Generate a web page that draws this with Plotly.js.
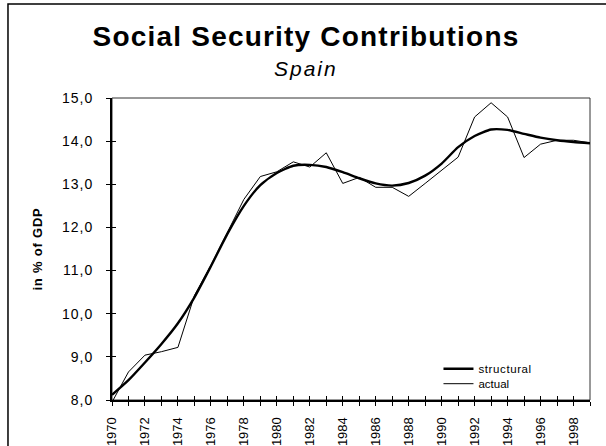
<!DOCTYPE html>
<html>
<head>
<meta charset="utf-8">
<script src="https://cdn.plot.ly/plotly-3.0.1.min.js"></script>
<style>
  html, body { margin: 0; padding: 0; background: #fff; }
  #chart { width: 606px; height: 446px; }
  .annotation[data-index="0"] text { letter-spacing: 1.2px; }
  .annotation[data-index="1"] text { letter-spacing: 2px; }
  .ytick text { letter-spacing: 1px; }
  .ytitle { letter-spacing: 0.8px; }
  .legendtext { letter-spacing: 0.6px; }
</style>
</head>
<body>
<div id="chart"></div>
<script>
const years = [1970,1971,1972,1973,1974,1975,1976,1977,1978,1979,
               1980,1981,1982,1983,1984,1985,1986,1987,1988,1989,
               1990,1991,1992,1993,1994,1995,1996,1997,1998,1999];
const structural = [8.12,8.46,8.87,9.30,9.78,10.38,11.10,11.85,12.50,12.98,
                    13.26,13.43,13.45,13.40,13.28,13.14,13.02,12.97,13.03,13.20,
                    13.48,13.86,14.12,14.27,14.26,14.17,14.08,14.02,13.98,13.95];
const actual = [7.95,8.65,9.04,9.12,9.22,10.42,11.12,11.87,12.65,13.18,
                13.29,13.52,13.40,13.73,13.02,13.16,12.93,12.93,12.72,13.02,
                13.33,13.63,14.56,14.89,14.56,13.62,13.93,14.02,14.02,13.96];
const xTickLabels = years.map(y => (y % 2 === 0 ? String(y) : ''));
const yTicks = [8,9,10,11,12,13,14,15];

const FONT = 'Liberation Sans, Arial, sans-serif';

const traces = [
  {x: years, y: structural, name: 'structural', type: 'scatter', mode: 'lines',
   legend: 'legend', line: {color: '#000', width: 2.4, shape: 'spline', smoothing: 0.6}},
  {x: years, y: actual, name: 'actual', type: 'scatter', mode: 'lines',
   xaxis: 'x2', yaxis: 'y2', legend: 'legend2', line: {color: '#000', width: 1}}
];

const legendBase = {xanchor: 'left', yanchor: 'top', bgcolor: 'rgba(0,0,0,0)',
                    borderwidth: 0, font: {family: FONT, size: 11.5, color: '#000'}};

const layout = {
  width: 606, height: 446,
  margin: {l: 112, r: 16, t: 98, b: 46, pad: 0},
  paper_bgcolor: '#fff', plot_bgcolor: '#fff',
  separators: ',.',
  font: {family: FONT, color: '#000', size: 13},
  showlegend: true,
  legend: Object.assign({}, legendBase, {x: 0.683, y: 0.1517}),
  legend2: Object.assign({}, legendBase, {x: 0.683, y: 0.102}),
  xaxis: {range: [1970, 1999], tickmode: 'array', tickvals: years, ticktext: xTickLabels,
          ticks: 'outside', ticklen: 4, tickwidth: 1, tickcolor: '#000',
          tickangle: -90, tickfont: {family: FONT, size: 13}, ticklabelstandoff: 6,
          showline: true, linewidth: 2, linecolor: '#000', showgrid: false, zeroline: false},
  xaxis2: {range: [1970, 1999], overlaying: 'x', anchor: 'y', side: 'bottom',
           tickmode: 'array', tickvals: years, ticks: 'inside', ticklen: 4, tickwidth: 1,
           tickcolor: '#000', showticklabels: false, showline: false, showgrid: false,
           zeroline: false},
  yaxis: {range: [8, 15], tickmode: 'array', tickvals: yTicks, tickformat: '.1f',
          ticks: 'outside', ticklen: 4, tickwidth: 1, tickcolor: '#000',
          tickfont: {family: FONT, size: 14}, ticklabelstandoff: 10,
          showline: true, linewidth: 2, linecolor: '#000', showgrid: false, zeroline: false,
          title: {text: '<b>in % of GDP</b>', font: {family: FONT, size: 13}, standoff: 16}},
  yaxis2: {range: [8, 15], overlaying: 'y', anchor: 'x', side: 'left',
           tickmode: 'array', tickvals: yTicks, ticks: 'inside', ticklen: 4, tickwidth: 1,
           tickcolor: '#000', showticklabels: false, showline: false, showgrid: false,
           zeroline: false},
  annotations: [
    {text: '<b>Social Security Contributions</b>', xref: 'paper', yref: 'paper',
     x: 0.406, y: 1.202, xanchor: 'center', yanchor: 'middle', showarrow: false,
     font: {family: FONT, size: 28, color: '#000'}},
    {text: '<i>Spain</i>', xref: 'paper', yref: 'paper',
     x: 0.406, y: 1.097, xanchor: 'center', yanchor: 'middle', showarrow: false,
     font: {family: FONT, size: 21, color: '#000'}}
  ],
  shapes: [
    {type: 'rect', xref: 'paper', yref: 'paper', x0: 0, x1: 1, y0: 0, y1: 1,
     line: {color: '#333', width: 1}, layer: 'below'},
    {type: 'rect', xref: 'paper', yref: 'paper', x0: -0.2176, x1: 1.2, y0: -0.3, y1: 1.3113,
     line: {color: '#000', width: 1.5}, layer: 'above'}
  ]
};

Plotly.newPlot('chart', traces, layout, {staticPlot: true, displayModeBar: false});
</script>
</body>
</html>
